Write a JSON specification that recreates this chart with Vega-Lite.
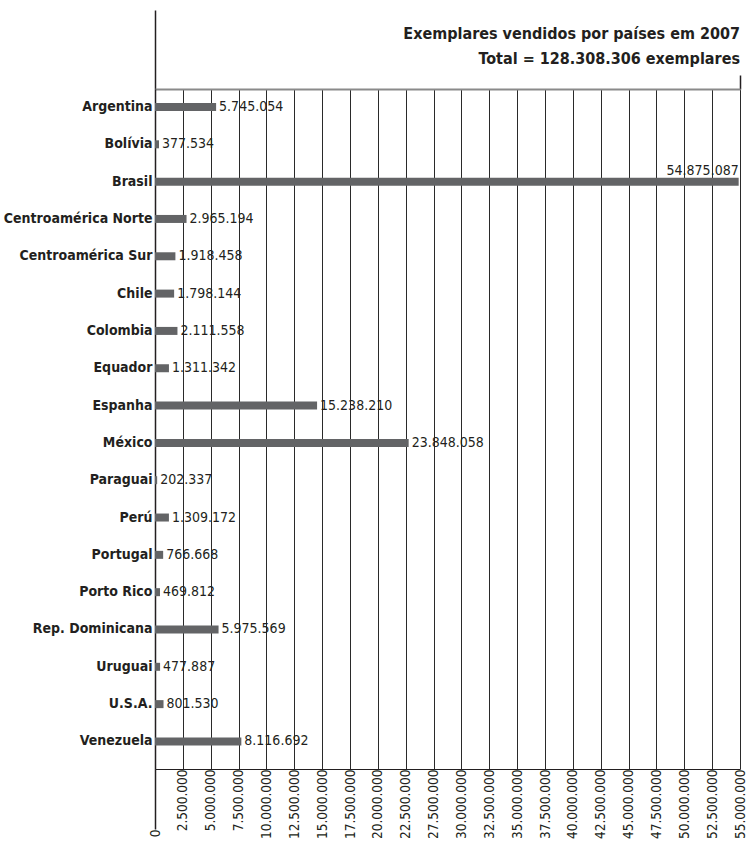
{
  "$schema": "https://vega.github.io/schema/vega-lite/v6.json",
  "autosize": "none",
  "width": 585,
  "height": 680,
  "padding": {"left": 155, "top": 89, "right": 8, "bottom": 76},
  "background": "white",
  "config": {
    "locale": {"number": {"decimal": ",", "thousands": ".", "grouping": [3], "currency": ["", ""]}},
    "view": {"stroke": null},
    "font": "DejaVu Sans Condensed"
  },
  "title": {
    "text": ["Exemplares vendidos por países em 2007", "Total = 128.308.306 exemplares"],
    "anchor": "end",
    "frame": "group",
    "font": "DejaVu Sans Condensed",
    "fontSize": 16,
    "fontWeight": "bold",
    "color": "#231f20",
    "offset": -58,
    "lineHeight": 25
  },
  "data": {
    "values": [
      {"pais": "Argentina", "exemplares": 5745054},
      {"pais": "Bolívia", "exemplares": 377534},
      {"pais": "Brasil", "exemplares": 54875087},
      {"pais": "Centroamérica Norte", "exemplares": 2965194},
      {"pais": "Centroamérica Sur", "exemplares": 1918458},
      {"pais": "Chile", "exemplares": 1798144},
      {"pais": "Colombia", "exemplares": 2111558},
      {"pais": "Equador", "exemplares": 1311342},
      {"pais": "Espanha", "exemplares": 15238210},
      {"pais": "México", "exemplares": 23848058},
      {"pais": "Paraguai", "exemplares": 202337},
      {"pais": "Perú", "exemplares": 1309172},
      {"pais": "Portugal", "exemplares": 766668},
      {"pais": "Porto Rico", "exemplares": 469812},
      {"pais": "Rep. Dominicana", "exemplares": 5975569},
      {"pais": "Uruguai", "exemplares": 477887},
      {"pais": "U.S.A.", "exemplares": 801530},
      {"pais": "Venezuela", "exemplares": 8116692}
    ]
  },
  "encoding": {
    "y": {
      "field": "pais",
      "type": "nominal",
      "sort": null,
      "scale": {"paddingOuter": 0.16, "align": 0.1},
      "axis": {
        "title": null,
        "ticks": false,
        "domainColor": "#231f20",
        "domainWidth": 1.5,
        "labelFont": "DejaVu Sans Condensed",
        "labelFontWeight": "bold",
        "labelFontSize": 14,
        "labelColor": "#231f20",
        "labelPadding": 3
      }
    }
  },
  "layer": [
    {
      "mark": {"type": "bar", "size": 8, "color": "#636466"},
      "encoding": {
        "x": {
          "field": "exemplares",
          "type": "quantitative",
          "scale": {"domain": [0, 55000000], "nice": false, "zero": true},
          "axis": {
            "orient": "bottom",
            "title": null,
            "values": [0, 2619047.619, 5238095.238, 7857142.857, 10476190.476, 13095238.095, 15714285.714, 18333333.333, 20952380.952, 23571428.571, 26190476.19, 28809523.81, 31428571.429, 34047619.048, 36666666.667, 39285714.286, 41904761.905, 44523809.524, 47142857.143, 49761904.762, 52380952.381, 55000000],
            "labelExpr": "format((round(datum.value*21/55000000) <= 9 ? round(datum.value*21/55000000) : round(datum.value*21/55000000) + 1) * 2500000, ',')",
            "labelAngle": -90,
            "labelAlign": "right",
            "labelBaseline": "middle",
            "labelFont": "DejaVu Sans Condensed",
            "labelFontSize": 13.5,
            "labelColor": "#231f20",
            "labelPadding": 0,
            "labelOverlap": false,
            "labelFlush": false,
            "grid": true,
            "gridColor": "#2a2a2a",
            "gridWidth": 1,
            "gridOpacity": 1,
            "domainColor": "#231f20",
            "domainWidth": 1.2,
            "ticks": true,
            "tickColor": "#231f20",
            "tickWidth": 1.5,
            "tickSize": {"condition": {"test": "datum.value == 0", "value": 60}, "value": 0}
          }
        }
      }
    },
    {
      "transform": [{"filter": "datum.pais != 'Brasil'"}],
      "mark": {"type": "text", "align": "left", "baseline": "middle", "dx": 3, "font": "DejaVu Sans Condensed", "fontSize": 14, "color": "#231f20"},
      "encoding": {
        "x": {
          "field": "exemplares",
          "type": "quantitative",
          "axis": {
            "orient": "top",
            "title": null,
            "labels": false,
            "grid": false,
            "values": [0, 55000000],
            "domainColor": "#8a8a8a",
            "domainWidth": 2,
            "ticks": true,
            "tickColor": "#231f20",
            "tickWidth": 1.5,
            "tickSize": {"condition": {"test": "datum.value == 0", "value": 79}, "value": 14}
          }
        },
        "text": {"field": "exemplares", "type": "quantitative", "format": ","}
      }
    },
    {
      "transform": [{"filter": "datum.pais == 'Brasil'"}],
      "mark": {"type": "text", "align": "right", "baseline": "bottom", "dy": -4, "font": "DejaVu Sans Condensed", "fontSize": 14, "color": "#231f20"},
      "encoding": {
        "x": {"field": "exemplares", "type": "quantitative", "axis": null},
        "text": {"field": "exemplares", "type": "quantitative", "format": ","}
      }
    }
  ],
  "resolve": {"axis": {"x": "independent"}}
}
